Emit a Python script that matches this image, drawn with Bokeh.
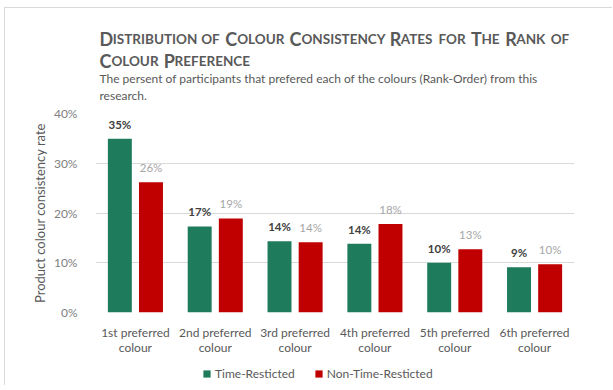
from bokeh.plotting import figure
from bokeh.layouts import column
from bokeh.models import (ColumnDataSource, Label, Legend, LegendItem,
                          NumeralTickFormatter, Range1d, FixedTicker)
from bokeh.transform import dodge
from bokeh.core.properties import value
from bokeh.embed import file_html
from bokeh.resources import INLINE

# ---------------- data ----------------
categories = ["1st preferred\ncolour", "2nd preferred\ncolour", "3rd preferred\ncolour",
              "4th preferred\ncolour", "5th preferred\ncolour", "6th preferred\ncolour"]
time_restricted = [0.349, 0.173, 0.143, 0.138, 0.100, 0.091]
non_time_restricted = [0.262, 0.189, 0.141, 0.178, 0.127, 0.097]
series_names = ["Time-Resticted", "Non-Time-Resticted"]
y_ticks = [0.0, 0.1, 0.2, 0.3, 0.4]
title_line1 = [("D", "ISTRIBUTION"), ("", "OF"), ("C", "OLOUR"), ("C", "ONSISTENCY"),
               ("R", "ATES"), ("", "FOR"), ("T", "HE"), ("R", "ANK"), ("", "OF")]
title_line2 = [("C", "OLOUR"), ("P", "REFERENCE")]
subtitle_lines = ["The persent of participants that prefered each of the colours (Rank-Order) from this",
                  "research."]
y_axis_title = "Product colour consistency rate"

# ---------------- layout / style ----------------
FONT = "Lato"
GREEN = "#1e7b5c"
RED = "#c00000"
TITLE_C = "#595959"
OX, OY = 5, 8                  # figure content origin inside the window (margin + border)
W = 613 - OX - 1
HEAD_H, MAIN_H, FOOT_H = 95, 254, 28
MAIN_TOP = OY + HEAD_H         # window y where the main figure starts
FOOT_TOP = MAIN_TOP + MAIN_H
FOOT_BOT = FOOT_TOP + FOOT_H
FRAME_L, FRAME_R, FRAME_T, FRAME_B = 95, 574, 113, 313   # window coords of plot frame
BORDER_L, BORDER_R = FRAME_L - OX, (OX + W) - FRAME_R

# ---------- header (titles); data coords == window pixel coords ----------
head = figure(width=W, height=HEAD_H, x_range=Range1d(FRAME_L, FRAME_R),
              y_range=Range1d(MAIN_TOP, OY), output_backend="svg", toolbar_location=None,
              min_border_left=BORDER_L, min_border_right=BORDER_R, min_border_top=0,
              min_border_bottom=0, outline_line_color=None, x_axis_type=None,
              y_axis_type=None)
head.grid.visible = False

# approximate advance widths (per 1000 em) of Lato Bold capitals, for small-caps flow
CAP_ADV = {"A": 680, "B": 640, "C": 660, "D": 740, "E": 560, "F": 540, "H": 750, "I": 290,
           "K": 660, "L": 500, "N": 760, "O": 800, "P": 600, "R": 620, "S": 530, "T": 580,
           "U": 720, "Y": 620}
BIG, SMALL, WORD_GAP = 18.0, 13.5, 6.0


def head_label(text, wx, wy, size, bold):
    head.add_layout(Label(x=wx, y=wy, text=text, text_font=FONT,
                          text_font_size=size, text_font_style="bold" if bold else "normal",
                          text_color=TITLE_C, text_baseline="alphabetic", text_align="left"))


def add_smallcaps(words, x0, baseline):
    cx = x0
    for cap, rest in words:
        if cap:
            head_label(cap, cx, baseline, f"{BIG}px", True)
            cx += CAP_ADV[cap] * BIG / 1000
        head_label(rest, cx, baseline, f"{SMALL}px", True)
        cx += sum(CAP_ADV[c] for c in rest) * SMALL / 1000 + WORD_GAP


add_smallcaps(title_line1, 99, 38)
add_smallcaps(title_line2, 99, 60)
for line, base in zip(subtitle_lines, [78, 95]):
    head_label(line, 99, base, "12px", False)

# ---------- main chart ----------
n = len(categories)
idx = list(range(n))
p = figure(width=W, height=MAIN_H, x_range=Range1d(-0.5, n - 0.5),
           y_range=Range1d(0, 0.4), output_backend="svg", toolbar_location=None,
           min_border_left=BORDER_L, min_border_right=BORDER_R,
           min_border_top=FRAME_T - MAIN_TOP,
           min_border_bottom=MAIN_H - (FRAME_B - MAIN_TOP), outline_line_color=None)

src = ColumnDataSource(dict(
    idx=idx, tr=time_restricted, ntr=non_time_restricted,
    tr_lbl=[f"{round(v * 100):.0f}%" for v in time_restricted],
    ntr_lbl=[f"{round(v * 100):.0f}%" for v in non_time_restricted]))

off = 0.195
bw = 0.30
p.vbar(x=dodge("idx", -off), top="tr", width=bw, source=src,
       fill_color=GREEN, line_color=None)
p.vbar(x=dodge("idx", off), top="ntr", width=bw, source=src,
       fill_color=RED, line_color=None)

p.text(x=dodge("idx", -off), y="tr", text="tr_lbl", source=src,
       text_align="center", text_baseline="bottom", y_offset=-8,
       text_font=value(FONT), text_font_size="11.5px", text_font_style="bold",
       text_color="#404040")
p.text(x=dodge("idx", off), y="ntr", text="ntr_lbl", source=src,
       text_align="center", text_baseline="bottom", y_offset=-8,
       text_font=value(FONT), text_font_size="11.5px", text_color="#a6a6a6")

p.xgrid.grid_line_color = None
p.ygrid.grid_line_color = "#d9d9d9"
p.ygrid.ticker = FixedTicker(ticks=y_ticks)

xax = p.xaxis[0]
xax.ticker = FixedTicker(ticks=idx)
xax.major_label_overrides = {i: c for i, c in zip(idx, categories)}
xax.major_label_text_font_size = "12px"
xax.major_label_text_color = "#595959"
xax.major_label_text_line_height = 1.0
xax.major_label_standoff = 6

yax = p.yaxis[0]
yax.ticker = FixedTicker(ticks=y_ticks)
yax.formatter = NumeralTickFormatter(format="0%")
yax.major_label_text_font_size = "12px"
yax.major_label_text_color = "#7f7f7f"
yax.major_label_standoff = 12
yax.axis_label = y_axis_title
yax.axis_label_text_font = FONT
yax.axis_label_text_font_style = "normal"
yax.axis_label_text_font_size = "13px"
yax.axis_label_text_color = "#595959"
yax.axis_label_standoff = 3

for ax in (xax, yax):
    ax.axis_line_color = None
    ax.major_tick_line_color = None
    ax.minor_tick_line_color = None
    ax.major_label_text_font = FONT

# ---------- footer (legend) ----------
foot = figure(width=W, height=FOOT_H, x_range=Range1d(FRAME_L, FRAME_R),
              y_range=Range1d(FOOT_BOT, FOOT_TOP), output_backend="svg",
              toolbar_location=None, min_border_left=BORDER_L, min_border_right=BORDER_R,
              min_border_top=0, min_border_bottom=0, outline_line_color=None,
              x_axis_type=None, y_axis_type=None)
foot.grid.visible = False
nan = float("nan")
g1 = foot.vbar(x=[nan], top=[nan], width=1, fill_color=GREEN, line_color=None)
g2 = foot.vbar(x=[nan], top=[nan], width=1, fill_color=RED, line_color=None)
legend = Legend(items=[LegendItem(label=series_names[0], renderers=[g1]),
                       LegendItem(label=series_names[1], renderers=[g2])],
                orientation="horizontal", location=(202 - FRAME_L, FOOT_BOT - 381),
                glyph_width=9, glyph_height=9, label_standoff=4, spacing=19,
                padding=0, margin=0, border_line_color=None, background_fill_alpha=0,
                label_text_font=FONT, label_text_font_size="12px",
                label_text_color="#595959")
foot.add_layout(legend, "center")

layout = column(head, p, foot, spacing=0)
layout.styles = {"margin-left": "4px", "margin-top": "7px",
                 "border-top": "1px solid #d9d9d9", "border-left": "1px solid #d9d9d9"}

open("out.html", "w").write(file_html(layout, INLINE))
